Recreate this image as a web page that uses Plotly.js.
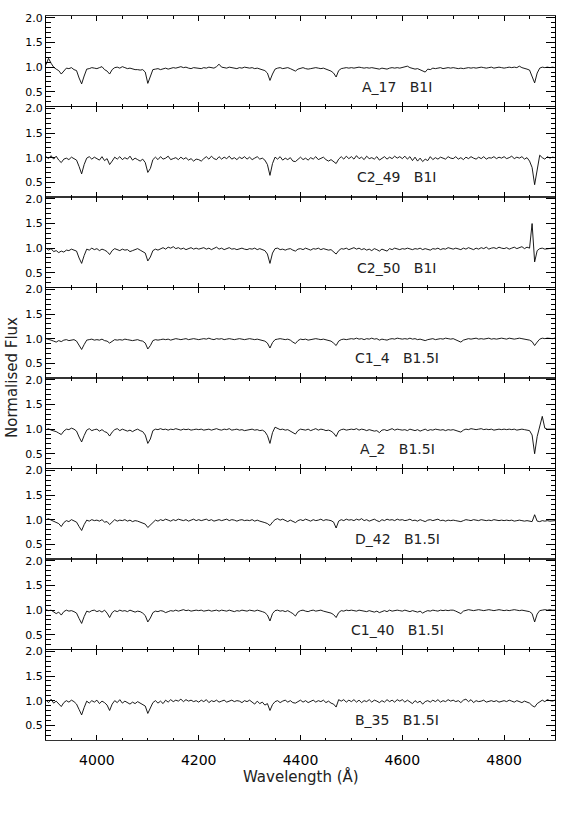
<!DOCTYPE html>
<html>
<head>
<meta charset="utf-8">
<script src="https://cdn.plot.ly/plotly-3.0.1.min.js"></script>
<style>
  html, body { margin: 0; padding: 0; background: #fff; }
  #chart { width: 566px; height: 822px; }
</style>
</head>
<body>
<div id="chart"></div>
<script>
// star labels, top to bottom
const starNames = ["A_17", "C2_49", "C2_50", "C1_4", "A_2", "D_42", "C1_40", "B_35"];
const spectralTypes = ["B1I", "B1I", "B1I", "B1.5I", "B1.5I", "B1.5I", "B1.5I", "B1.5I"];

const fluxA17 = [
  1.05, 1.18, 1.08, 1.00, 0.96, 0.93, 0.86, 0.93, 0.98, 0.97, 0.99, 0.95, 0.93, 0.78, 0.66, 0.82, 0.96, 0.97, 0.99, 0.98,
  0.97, 0.99, 1.01, 0.95, 0.92, 0.86, 0.95, 0.99, 1.00, 0.98, 1.01, 0.99, 0.97, 0.98, 0.96, 0.95, 0.95, 0.94, 0.95, 0.90,
  0.67, 0.80, 0.95, 0.96, 0.97, 0.95, 0.97, 0.98, 0.96, 0.97, 0.99, 0.98, 1.00, 1.01, 0.99, 1.00, 0.98, 0.97, 0.99, 0.98,
  0.98, 0.97, 0.99, 0.98, 1.00, 0.99, 0.98, 1.01, 1.06, 1.00, 0.99, 0.98, 1.00, 0.99, 0.98, 0.97, 0.99, 0.98, 1.00, 0.99,
  0.98, 0.99, 0.97, 0.98, 0.96, 0.95, 0.93, 0.88, 0.73, 0.86, 0.96, 0.98, 0.99, 0.97, 0.98, 0.99, 0.97, 0.94, 0.92, 0.96,
  0.98, 0.99, 0.97, 0.96, 0.97, 0.98, 0.99, 0.98, 0.97, 0.98, 0.96, 0.95, 0.92, 0.88, 0.80, 0.93, 0.97, 0.98, 0.99, 0.98,
  0.99, 0.98, 0.99, 1.00, 0.99, 0.98, 0.99, 0.98, 0.99, 0.98, 0.97, 0.96, 0.98, 0.97, 0.96, 0.98, 0.99, 0.98, 0.99, 0.98,
  0.99, 1.00, 1.02, 0.99, 0.98, 0.96, 0.97, 0.95, 0.93, 0.90, 0.96, 0.95, 0.98, 0.97, 0.98, 0.99, 0.97, 0.98, 0.99, 0.98,
  0.99, 0.98, 0.97, 0.98, 0.97, 0.98, 0.99, 0.98, 0.99, 0.98, 0.99, 1.00, 0.99, 0.98, 0.99, 1.00, 0.98, 0.99, 1.00, 0.99,
  0.98, 0.99, 1.00, 0.99, 1.00, 0.99, 1.02, 0.99, 0.98, 0.96, 0.94, 0.82, 0.68, 0.88, 0.98, 1.00, 0.99, 1.00, 0.99, 1.00,
  0.99
];
const fluxC249 = [
  1.02, 0.98, 1.04, 0.97, 1.03, 0.95, 0.90, 0.97, 0.99, 0.96, 1.01, 0.98, 0.95, 0.82, 0.67, 0.86, 0.99, 1.02, 0.97, 1.01,
  0.98, 0.95, 1.02, 0.94, 0.98, 0.86, 0.93, 1.01, 0.97, 1.02, 0.96, 1.00, 0.97, 1.03, 0.95, 0.99, 0.96, 0.93, 0.97, 0.90,
  0.70, 0.78, 0.96, 1.01, 0.96, 1.02, 0.97, 0.99, 1.03, 0.96, 0.98, 1.00, 0.96, 1.01, 0.97, 1.00, 0.95, 0.98, 0.93, 0.97,
  0.96, 0.93, 0.98, 1.02, 0.97, 1.03, 0.98, 0.96, 1.02, 0.97, 1.01, 0.98, 1.03, 0.97, 1.00, 0.96, 1.01, 0.98, 1.02, 0.97,
  1.01, 0.96, 0.99, 1.02, 0.97, 0.99, 0.95, 0.86, 0.64, 0.88, 1.01, 0.97, 1.02, 0.95, 0.99, 0.96, 1.00, 0.93, 0.92, 0.97,
  1.01, 0.96, 0.99, 0.95, 1.00, 0.97, 1.02, 0.96, 0.99, 1.01, 0.96, 0.93, 0.96, 0.92, 0.88, 0.97, 1.02, 0.97, 1.03, 0.98,
  1.02, 0.97, 1.04, 0.98, 1.01, 0.96, 1.03, 0.98, 1.00, 0.97, 1.02, 0.95, 0.99, 1.02, 0.97, 1.01, 0.98, 1.03, 0.99, 1.02,
  0.98, 1.03, 0.97, 1.02, 0.94, 1.01, 0.93, 0.99, 0.92, 0.97, 0.94, 1.02, 0.96, 1.00, 0.97, 1.01, 0.99, 0.97, 1.02, 0.99,
  0.98, 1.02, 0.97, 1.00, 0.96, 1.01, 0.98, 1.02, 0.99, 0.97, 1.01, 0.98, 1.02, 0.97, 1.00, 0.99, 1.02, 0.98, 1.01, 0.99,
  1.02, 0.98, 1.00, 1.03, 0.98, 1.01, 0.99, 1.02, 0.97, 1.00, 0.93, 0.80, 0.45, 0.78, 1.05, 1.00, 0.97, 1.02, 0.99, 1.01,
  1.00
];
const fluxC250 = [
  1.00, 0.96, 0.99, 0.93, 0.95, 0.91, 0.94, 0.92, 0.96, 0.95, 0.98, 0.96, 0.94, 0.80, 0.69, 0.85, 0.98, 0.96, 1.00, 0.97,
  0.99, 0.95, 0.98, 0.96, 0.93, 0.87, 0.95, 0.99, 0.97, 0.95, 0.98, 0.96, 0.97, 0.93, 0.95, 0.97, 0.99, 0.96, 0.93, 0.90,
  0.74, 0.82, 0.95, 0.98, 0.96, 0.99, 1.01, 0.98, 1.02, 1.00, 1.03, 0.99, 1.01, 0.98, 1.00, 0.97, 0.99, 1.01, 0.98, 1.00,
  0.98, 0.99, 1.01, 0.98, 1.00, 0.97, 0.99, 1.02, 0.98, 1.00, 0.97, 0.99, 1.01, 0.98, 0.99, 0.97, 0.98, 1.00, 0.98, 0.97,
  0.99, 0.98, 1.00, 0.97, 0.99, 0.97, 0.95, 0.88, 0.69, 0.90, 0.99, 1.00, 0.97, 0.98, 0.96, 0.98, 0.99, 0.96, 0.94, 0.98,
  0.99, 0.97, 1.00, 0.98, 0.96, 0.99, 0.98, 1.00, 0.97, 0.99, 0.98, 0.96, 0.97, 0.92, 0.88, 0.95, 0.99, 0.98, 1.00, 0.97,
  0.99, 1.01, 0.98, 1.00, 0.97, 0.99, 0.96, 0.98, 0.95, 0.99, 0.97, 0.94, 0.98, 0.96, 0.94, 0.99, 0.97, 1.00, 0.98, 0.97,
  0.99, 0.98, 1.00, 0.99, 0.97, 0.99, 0.98, 1.00, 0.97, 0.99, 0.98, 0.96, 0.99, 0.98, 1.00, 0.97, 0.99, 0.98, 1.01, 0.99,
  0.98, 1.00, 0.99, 0.97, 1.00, 0.98, 1.01, 0.99, 0.97, 1.00, 0.98, 1.01, 0.99, 1.02, 0.98, 1.00, 1.01, 0.99, 1.02, 1.00,
  0.99, 1.01, 0.98, 1.00, 1.02, 0.99, 1.01, 1.03, 0.99, 1.02, 1.00, 1.50, 0.72, 0.95, 0.99, 1.00, 0.98, 0.99, 1.00, 1.00,
  1.00
];
const fluxC14 = [
  1.00, 0.99, 0.97, 0.95, 0.93, 0.96, 0.94, 0.97, 0.98, 0.96, 0.97, 0.98, 0.95, 0.86, 0.78, 0.88, 0.97, 0.98, 0.99, 0.97,
  0.98, 0.97, 0.99, 0.96, 0.95, 0.91, 0.95, 0.98, 0.97, 0.98, 0.97, 0.99, 0.98, 0.97, 0.96, 0.97, 0.98, 0.96, 0.95, 0.91,
  0.79, 0.86, 0.96, 0.98, 0.97, 0.98, 0.99, 0.98, 0.99, 0.97, 0.98, 1.00, 0.99, 0.98, 0.99, 1.00, 0.98, 0.99, 1.00, 0.99,
  0.98, 0.99, 1.00, 0.99, 1.01, 0.99, 0.98, 1.00, 0.99, 1.00, 0.98, 0.99, 1.00, 0.99, 0.98, 0.99, 1.00, 0.99, 0.98, 0.99,
  1.00, 0.99, 0.98, 0.99, 0.98, 0.97, 0.95, 0.91, 0.81, 0.92, 0.98, 0.99, 1.00, 0.99, 0.98, 0.99, 0.97, 0.93, 0.90, 0.96,
  0.99, 0.98, 0.99, 0.97, 0.98, 0.99, 1.00, 0.99, 0.98, 0.99, 0.98, 0.97, 0.95, 0.91, 0.86, 0.95, 0.98, 0.99, 0.98, 0.99,
  1.00, 0.99, 1.01, 0.99, 1.00, 0.98, 1.00, 0.99, 1.01, 0.99, 1.00, 0.97, 0.99, 0.98, 0.97, 0.99, 1.00, 0.99, 1.01, 1.00,
  0.99, 1.00, 0.99, 1.01, 0.99, 1.00, 0.98, 0.99, 0.97, 0.96, 0.98, 0.99, 1.00, 0.98, 0.99, 1.00, 0.99, 1.01, 1.00, 0.99,
  1.00, 0.98, 0.95, 0.93, 0.97, 0.99, 1.00, 0.99, 1.00, 1.01, 0.99, 1.00, 0.99, 1.00, 1.01, 0.99, 1.00, 0.99, 1.00, 1.01,
  1.00, 0.99, 1.01, 1.00, 0.99, 1.00, 1.01, 1.00, 0.99, 0.98, 0.97, 0.94, 0.86, 0.93, 0.99, 1.01, 1.00, 1.01, 1.00, 1.00,
  1.01
];
const fluxA2 = [
  0.99, 1.01, 0.98, 0.97, 0.95, 0.92, 0.89, 0.96, 1.00, 0.99, 1.02, 1.00, 0.96, 0.84, 0.74, 0.87, 0.98, 1.01, 0.97, 0.99,
  1.00, 0.96, 0.99, 0.95, 0.93, 0.86, 0.94, 0.99, 1.01, 0.97, 1.00, 0.98, 0.96, 0.98, 0.95, 0.98, 1.00, 0.97, 0.95, 0.88,
  0.71, 0.80, 0.97, 1.00, 0.99, 1.01, 0.99, 1.00, 0.98, 1.00, 0.99, 1.01, 0.99, 0.98, 1.00, 0.99, 1.00, 0.98, 0.99, 1.00,
  0.99, 1.00, 0.98, 0.99, 1.00, 0.98, 0.99, 1.01, 0.99, 0.98, 1.00, 0.99, 1.01, 0.98, 0.99, 1.00, 0.98, 0.99, 0.97, 0.98,
  0.99, 1.00, 0.98, 0.99, 0.97, 0.98, 0.95, 0.87, 0.71, 0.93, 1.04, 1.02, 0.99, 1.00, 0.98, 0.99, 0.96, 0.94, 0.90, 0.97,
  1.00, 0.99, 0.98, 1.00, 0.97, 0.99, 1.01, 0.98, 1.00, 0.99, 0.97, 0.98, 0.96, 0.92, 0.85, 0.96, 0.99, 1.00, 0.98, 0.99,
  1.00, 0.99, 1.01, 0.98, 1.00, 0.99, 0.97, 0.99, 0.98, 0.96, 0.97, 0.93, 0.98, 0.99, 0.97, 0.99, 1.01, 0.98, 1.00, 0.99,
  0.98, 0.99, 0.97, 1.00, 0.98, 0.97, 0.99, 0.96, 0.98, 1.00, 0.97, 0.99, 0.98, 1.00, 0.99, 0.98, 0.99, 0.97, 0.99, 0.98,
  0.99, 0.97, 0.96, 0.94, 0.98, 1.00, 0.99, 1.01, 1.00, 0.99, 1.00, 1.01, 0.99, 1.00, 0.99, 1.00, 0.98, 0.99, 1.00, 0.99,
  1.00, 0.99, 1.00, 0.99, 1.00, 0.98, 0.99, 1.00, 0.99, 0.98, 0.97, 0.88, 0.50, 0.85, 1.08, 1.26, 1.02, 1.00, 1.00, 1.00,
  1.00
];
const fluxD42 = [
  1.00, 1.02, 0.99, 0.97, 0.95, 0.92, 0.86, 0.94, 0.98, 0.96, 1.00, 0.98, 0.95, 0.86, 0.78, 0.90, 0.99, 0.97, 1.00, 0.98,
  0.99, 0.97, 1.00, 0.95, 0.96, 0.90, 0.96, 1.00, 0.97, 0.99, 0.98, 1.00, 0.97, 0.99, 0.96, 0.98, 0.97, 0.95, 0.93, 0.91,
  0.84, 0.89, 0.96, 0.99, 0.97, 1.00, 0.98, 1.01, 0.99, 0.97, 1.00, 0.98, 1.01, 0.99, 0.98, 1.00, 0.97, 0.99, 1.01, 0.98,
  1.00, 0.98, 0.99, 1.01, 0.98, 1.00, 0.97, 0.99, 1.00, 0.98, 0.99, 1.01, 0.98, 1.00, 0.99, 0.97, 0.99, 1.00, 0.98, 0.99,
  0.98, 1.00, 0.97, 0.99, 0.97, 0.96, 0.94, 0.92, 0.88, 0.95, 1.00, 1.02, 0.99, 1.01, 0.98, 0.96, 0.99, 0.97, 0.94, 0.98,
  1.00, 0.98, 1.01, 0.99, 0.97, 1.00, 0.98, 0.99, 1.01, 0.98, 1.00, 0.99, 0.98, 0.95, 0.83, 0.97, 1.00, 0.98, 1.01, 0.99,
  1.00, 0.98, 1.01, 0.99, 1.02, 0.98, 1.00, 0.97, 0.99, 1.01, 0.98, 0.96, 1.00, 0.98, 1.01, 0.99, 1.00, 0.98, 1.01, 0.99,
  1.00, 0.98, 0.99, 1.01, 0.98, 0.99, 0.97, 1.00, 0.98, 0.96, 0.99, 1.00, 0.98, 0.99, 1.01, 0.98, 0.99, 0.97, 0.99, 0.98,
  0.99, 0.98, 0.97, 0.96, 0.98, 1.00, 0.99, 0.98, 1.00, 0.99, 0.98, 1.00, 0.99, 0.98, 0.99, 0.98, 1.00, 0.99, 0.98, 0.99,
  0.98, 0.99, 0.98, 0.99, 0.97, 0.98, 0.99, 0.98, 0.97, 0.98, 0.97, 0.96, 1.10, 0.97, 0.96, 0.98, 0.97, 0.98, 0.97, 0.98,
  0.98
];
const fluxC140 = [
  1.01, 0.99, 1.00, 0.96, 0.93, 0.96, 0.90, 0.97, 1.00, 0.98, 0.99, 0.97, 0.94, 0.83, 0.73, 0.87, 0.98, 0.96, 0.99, 1.00,
  0.97, 0.99, 0.96, 1.00, 0.94, 0.85, 0.95, 0.99, 0.97, 1.00, 0.98, 0.99, 0.97, 1.00, 0.98, 0.96, 0.98, 0.97, 0.94, 0.89,
  0.76, 0.84, 0.95, 0.98, 0.97, 0.99, 0.98, 0.95, 0.97, 0.99, 0.98, 1.00, 0.98, 0.99, 1.01, 0.99, 1.00, 0.98, 0.99, 1.00,
  0.99, 1.00, 0.98, 0.99, 1.00, 0.98, 0.99, 1.00, 0.98, 1.00, 0.99, 0.98, 1.00, 0.99, 0.97, 0.99, 0.98, 1.00, 0.99, 0.98,
  1.00, 0.99, 0.98, 1.00, 0.99, 0.97, 0.95, 0.90, 0.78, 0.93, 0.99, 1.00, 0.98, 0.99, 0.97, 0.99, 0.96, 0.93, 0.88, 0.96,
  0.99, 1.00, 0.98, 0.97, 0.99, 1.00, 0.98, 0.99, 1.00, 0.98, 0.97, 0.96, 0.94, 0.91, 0.85, 0.95, 0.99, 0.98, 1.00, 0.99,
  1.00, 0.99, 0.98, 1.00, 0.99, 0.98, 0.97, 0.99, 0.98, 0.96, 0.98, 0.95, 0.97, 0.99, 0.97, 1.00, 0.98, 0.99, 1.00, 0.99,
  0.98, 1.00, 0.99, 0.97, 0.99, 0.98, 0.96, 0.98, 0.94, 0.97, 0.99, 0.98, 1.00, 0.99, 0.98, 1.00, 0.99, 1.00, 0.99, 1.00,
  1.00, 0.98, 0.96, 0.93, 0.98, 1.00, 1.01, 1.00, 0.99, 1.00, 1.01, 1.00, 0.99, 1.00, 1.01, 1.00, 0.99, 1.00, 1.01, 1.00,
  0.99, 1.00, 0.99, 1.00, 1.01, 1.00, 0.99, 1.00, 0.99, 0.98, 0.97, 0.93, 0.76, 0.92, 0.99, 1.00, 1.01, 1.00, 1.01, 1.00,
  1.00
];
const fluxB35 = [
  1.01, 0.96, 1.03, 0.95, 0.99, 0.93, 0.88, 0.96, 1.00, 0.97, 1.01, 0.98, 0.93, 0.82, 0.71, 0.86, 0.99, 0.95, 1.00, 0.97,
  1.01, 0.94, 0.99, 0.96, 0.91, 0.80, 0.93, 1.00, 0.96, 1.02, 0.95, 0.99, 0.96, 0.93, 0.97, 0.94, 0.98, 0.95, 0.92, 0.89,
  0.74, 0.84, 0.96, 1.00, 0.95, 0.99, 0.94, 1.01, 0.97, 1.02, 0.98, 1.01, 0.99, 1.03, 0.98, 1.02, 0.99, 1.01, 0.98, 1.00,
  0.97, 1.01, 0.98, 1.02, 0.96, 1.00, 0.98, 1.01, 0.97, 0.99, 1.01, 0.97, 0.99, 1.01, 0.98, 1.00, 0.99, 0.96, 1.00, 0.98,
  1.01, 0.97, 0.93, 0.99, 0.94, 0.97, 0.91, 0.94, 0.80, 0.92, 0.98, 1.00, 0.96, 0.99, 1.01, 0.97, 1.00, 0.96, 0.95, 0.98,
  1.01, 0.97, 1.00, 0.96, 0.99, 1.01, 0.97, 1.00, 0.98, 1.01, 0.96, 0.99, 0.95, 0.93, 0.87, 1.02, 0.99, 1.02, 0.97, 1.01,
  0.98, 1.02, 0.97, 1.01, 0.96, 1.00, 0.98, 1.02, 0.97, 1.01, 0.99, 0.96, 1.00, 0.97, 1.02, 0.98, 1.01, 0.97, 1.02, 0.99,
  1.02, 0.97, 1.01, 0.98, 0.94, 1.00, 0.96, 0.99, 0.93, 0.98, 1.00, 0.97, 1.01, 0.98, 1.02, 0.97, 1.00, 0.98, 1.02, 0.99,
  1.01, 0.98, 1.00, 0.96, 1.01, 1.03, 0.98, 1.02, 0.96, 1.00, 0.98, 0.99, 1.01, 0.97, 0.99, 1.00, 0.98, 1.00, 0.97, 0.99,
  1.00, 0.98, 1.01, 0.99, 0.97, 1.00, 0.98, 0.96, 0.99, 0.97, 0.95, 0.90, 0.87, 0.94, 0.98, 1.01, 0.98, 1.02, 1.00, 0.99,
  1.01
];

const fluxes = [fluxA17, fluxC249, fluxC250, fluxC14, fluxA2, fluxD42, fluxC140, fluxB35];
const yTickVals = [0.5, 1.0, 1.5, 2.0];
const yTickText = ["0.5", "1.0", "1.5", "2.0"];

// wavelength grid: the spectra are sampled every 5 A starting at 3900 A
const wavelength = fluxA17.map((_, i) => 3900 + 5 * i);

const nPanels = fluxes.length;
const ink = "#000000";
const traces = [];
const annotations = [];
const layout = {
  width: 566,
  height: 822,
  margin: { l: 46, r: 11, t: 16, b: 82 },
  paper_bgcolor: "#ffffff",
  plot_bgcolor: "#ffffff",
  showlegend: false,
  font: { family: "DejaVu Sans, sans-serif", color: ink, size: 12 },
};

fluxes.forEach((flux, i) => {
  const sfx = i === 0 ? "" : String(i + 1);
  traces.push({
    type: "scatter",
    mode: "lines",
    x: wavelength,
    y: flux,
    xaxis: "x" + sfx,
    yaxis: "y" + sfx,
    line: { color: ink, width: 0.9 },
    hoverinfo: "skip",
  });

  const top = 1 - i / nPanels;
  const bottom = 1 - (i + 1) / nPanels;
  const last = i === nPanels - 1;

  layout["xaxis" + sfx] = {
    domain: [0, 1],
    anchor: "y" + sfx,
    range: [3900, 4900],
    tick0: 4000,
    dtick: 200,
    ticks: "inside",
    ticklen: 5,
    tickcolor: ink,
    minor: { dtick: 50, ticklen: 2.5, ticks: "inside", tickcolor: ink },
    showline: true,
    linecolor: ink,
    linewidth: 0.8,
    mirror: "ticks",
    showgrid: false,
    zeroline: false,
    showticklabels: last,
    ticklabelstandoff: 7,
    tickfont: { size: 14, color: ink },
    fixedrange: true,
  };
  layout["yaxis" + sfx] = {
    domain: [bottom, top],
    anchor: "x" + sfx,
    range: [0.2, 2.04],
    tickvals: yTickVals,
    ticktext: yTickText,
    ticks: "inside",
    ticklen: 9,
    tickcolor: ink,
    minor: { dtick: 0.1, tick0: 0, ticklen: 4.5, ticks: "inside", tickcolor: ink },
    showline: true,
    linecolor: ink,
    linewidth: 1,
    mirror: "ticks",
    showgrid: false,
    zeroline: false,
    tickfont: { size: 11, color: ink },
    fixedrange: true,
  };

  annotations.push({
    xref: "x" + sfx,
    yref: "y" + sfx,
    x: 4590,
    y: 0.6,
    text: starNames[i] + "\u00a0\u00a0\u00a0" + spectralTypes[i],
    showarrow: false,
    xanchor: "center",
    yanchor: "middle",
    font: { size: 14, color: "#222222" },
  });
});

annotations.push({
  xref: "paper",
  yref: "paper",
  x: 0.5,
  y: 0,
  yshift: -36,
  text: "Wavelength (Å)",
  showarrow: false,
  xanchor: "center",
  yanchor: "middle",
  font: { size: 15, color: "#222222" },
});
annotations.push({
  xref: "paper",
  yref: "paper",
  x: 0,
  y: 0.5,
  xshift: -34,
  text: "Normalised Flux",
  textangle: -90,
  showarrow: false,
  xanchor: "center",
  yanchor: "middle",
  font: { size: 15, color: "#222222" },
});
layout.annotations = annotations;

Plotly.newPlot("chart", traces, layout, { staticPlot: true, displayModeBar: false });
</script>
</body>
</html>
